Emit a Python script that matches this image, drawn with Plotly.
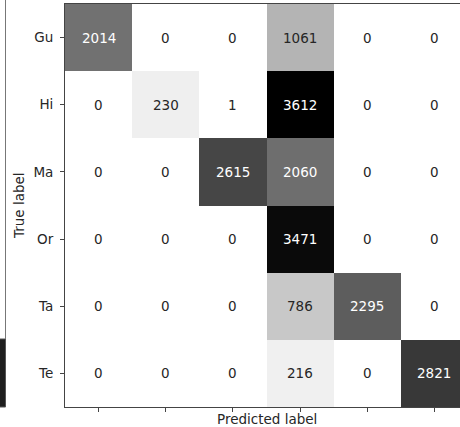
import plotly.graph_objects as go

# Confusion matrix: rows = true label, columns = predicted label
labels = ["Gu", "Hi", "Ma", "Or", "Ta", "Te"]
counts = [
    [2014, 0, 0, 1061, 0, 0],
    [0, 230, 1, 3612, 0, 0],
    [0, 0, 2615, 2060, 0, 0],
    [0, 0, 0, 3471, 0, 0],
    [0, 0, 0, 786, 2295, 0],
    [0, 0, 0, 216, 0, 2821],
]

W, H = 460, 427
ML, MT, MB = 65, 4, 20
plot_w = W - ML
plot_h = H - MT - MB
cell = plot_h / len(labels)
x_hi = -0.5 + plot_w / cell

n = len(labels)
vmax = max(max(r) for r in counts)
vmin = min(min(r) for r in counts)
thresh = (vmax + vmin) / 2

font = "DejaVu Sans"
fs = 13.5
fig = go.Figure(
    go.Heatmap(
        z=counts,
        x=list(range(n)),
        y=list(range(n)),
        colorscale=[[0, "#ffffff"], [1, "#000000"]],
        zmin=vmin,
        zmax=vmax,
        showscale=False,
        hoverinfo="skip",
    )
)

annotations = []
for i, row in enumerate(counts):
    for j, v in enumerate(row):
        annotations.append(dict(
            x=j, y=i, xref="x", yref="y", text=str(v), showarrow=False,
            font=dict(family=font, size=fs, color="#ffffff" if v > thresh else "#262626"),
        ))

# axis titles
annotations.append(dict(
    x=(n - 1) / 2, y=0, xref="x", yref="paper", xanchor="center", yanchor="top", yshift=-2,
    text="Predicted label", showarrow=False,
    font=dict(family=font, size=fs, color="#262626"),
))
annotations.append(dict(
    x=(18.5 - ML) / plot_w, y=0.5, xref="paper", yref="paper",
    xanchor="center", yanchor="middle",
    text="True label", textangle=-90, showarrow=False,
    font=dict(family=font, size=fs, color="#262626"),
))

def px(x):
    return (x - ML) / plot_w

def py(y):
    return (H - MB - y) / plot_h

# edge of the neighbouring colour bar
shapes = [
    dict(type="rect", xref="paper", yref="paper",
         x0=px(-2), x1=px(5.5), y0=py(407), y1=py(339),
         fillcolor="#1e1e1e", line=dict(color="#555555", width=1)),
    dict(type="line", xref="paper", yref="paper",
         x0=px(5.5), x1=px(5.5), y0=py(339), y1=py(-2),
         line=dict(color="#777777", width=1)),
]

fig.update_layout(
    width=W, height=H,
    margin=dict(l=ML, r=0, t=MT, b=MB, pad=0),
    paper_bgcolor="white", plot_bgcolor="white",
    annotations=annotations, shapes=shapes,
    font=dict(family=font, size=fs, color="#262626"),
)
fig.update_xaxes(
    range=[-0.5, x_hi], tickvals=list(range(n)), showticklabels=False,
    ticks="outside", ticklen=4, tickcolor="#444", showgrid=False, zeroline=False,
    showline=True, linecolor="#444", linewidth=1, mirror=True,
)
fig.update_yaxes(
    range=[n - 0.5, -0.5], tickvals=list(range(n)), ticktext=labels,
    ticks="outside", ticklen=4, tickcolor="#444", showgrid=False, zeroline=False,
    showline=True, linecolor="#444", linewidth=1, ticklabelstandoff=4,
    tickfont=dict(family=font, size=fs, color="#262626"),
)

fig.write_html("out.html")
